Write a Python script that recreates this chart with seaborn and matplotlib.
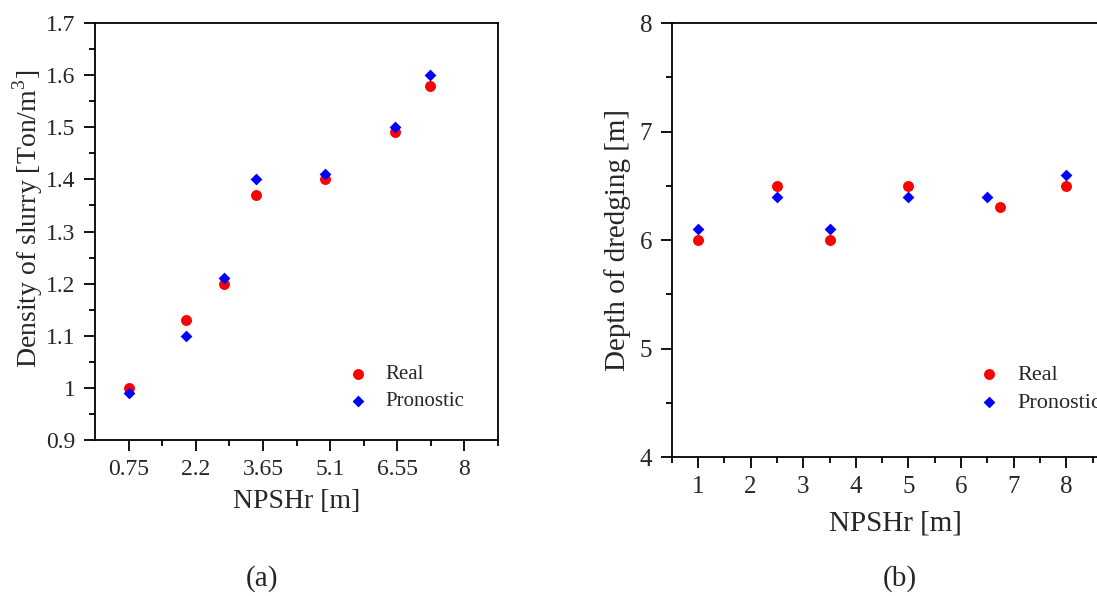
import pandas as pd
import matplotlib.pyplot as plt
import seaborn as sns

# ==============================================================
# basic style
# ==============================================================
sns.set_style('ticks')
plt.rcParams['font.family'] = ['Liberation Serif', 'DejaVu Serif']
plt.rcParams['mathtext.fontset'] = 'custom'
plt.rcParams['mathtext.rm'] = 'Liberation Serif'
plt.rcParams['axes.linewidth'] = 1.3

# ==============================================================
# data
# ==============================================================
# (a) density of slurry
a_x_real = [0.75, 2.0, 2.8, 3.5, 5.0, 6.5, 7.25]
a_y_real = [1.00, 1.13, 1.20, 1.37, 1.40, 1.49, 1.58]
a_x_pron = [0.75, 2.0, 2.8, 3.5, 5.0, 6.5, 7.25]
a_y_pron = [0.99, 1.10, 1.21, 1.40, 1.41, 1.50, 1.60]
a_xticks = [0.75, 2.2, 3.65, 5.1, 6.55, 8]
a_xticklabels = ['0.75', '2.2', '3.65', '5.1', '6.55', '8']
a_yticks = [0.9, 1.0, 1.1, 1.2, 1.3, 1.4, 1.5, 1.6, 1.7]
a_yticklabels = ['0.9', '1', '1.1', '1.2', '1.3', '1.4', '1.5', '1.6', '1.7']

# (b) depth of dredging
b_x_real = [1, 2.5, 3.5, 5, 6.75, 8]
b_y_real = [6.0, 6.5, 6.0, 6.5, 6.3, 6.5]
b_x_pron = [1, 2.5, 3.5, 5, 6.5, 8]
b_y_pron = [6.1, 6.4, 6.1, 6.4, 6.4, 6.6]
b_xticks = [1, 2, 3, 4, 5, 6, 7, 8]
b_yticks = [4, 5, 6, 7, 8]

fig = plt.figure(figsize=(10.97, 5.96), dpi=100)
ax_a = fig.add_axes([0.0866, 0.2617, 0.3674, 0.6997])
ax_b = fig.add_axes([0.6123, 0.2332, 0.4076, 0.7282])


def draw(ax, xr, yr, xp, yp, xlim, ylim, xticks, xticklabels, yticks,
         yticklabels, xminor, yminor, ylabel, legend_anchor,
         tick_fs, label_fs, leg_fs, xlabelpad):
    sns.scatterplot(x=xr, y=yr, color='#ff0000', marker='o', s=62,
                    linewidth=0, label='Real', ax=ax)
    sns.scatterplot(x=xp, y=yp, color='#0000ff', marker='D', s=36,
                    linewidth=0, label='Pronostic', ax=ax)
    ax.set_xlim(*xlim)
    ax.set_ylim(*ylim)
    ax.set_xticks(xticks)
    ax.set_xticklabels(xticklabels, fontsize=tick_fs)
    ax.set_xticks(xminor, minor=True)
    ax.set_yticks(yticks)
    ax.set_yticklabels(yticklabels, fontsize=tick_fs)
    ax.set_yticks(yminor, minor=True)
    ax.tick_params(which='major', direction='out', length=8, width=1.3,
                   color='black', pad=6)
    ax.tick_params(which='minor', direction='out', length=4, width=1.3,
                   color='black')
    ax.set_xlabel('NPSHr [m]', fontsize=label_fs, labelpad=xlabelpad)
    ax.set_ylabel(ylabel, fontsize=label_fs, labelpad=6)
    for sp in ax.spines.values():
        sp.set_color('black')
    handles, labels = ax.get_legend_handles_labels()
    ax.legend(handles, labels, frameon=False, fontsize=leg_fs,
              loc='upper left', bbox_to_anchor=legend_anchor,
              bbox_transform=fig.transFigure, handletextpad=0.3,
              labelspacing=0.35, markerscale=1.0, borderaxespad=0)


# minor ticks halfway between the majors
a_xminor = [v + 0.725 for v in a_xticks]
a_yminor = [v + 0.05 for v in a_yticks[:-1]]
b_xminor = [v + 0.5 for v in [0] + b_xticks]
b_yminor = [v + 0.5 for v in b_yticks[:-1]]

draw(ax_a, a_x_real, a_y_real, a_x_pron, a_y_pron, (0.025, 8.725),
     (0.9, 1.7), a_xticks, a_xticklabels, a_yticks, a_yticklabels,
     a_xminor, a_yminor, 'Density of slurry [Ton/m$^3$]', (0.300, 0.402),
     17, 20, 15, 6)
ax_a.yaxis.set_label_coords(-0.125, 0.53)

draw(ax_b, b_x_real, b_y_real, b_x_pron, b_y_pron, (0.5, 9.0), (4, 8),
     b_xticks, [str(v) for v in b_xticks], b_yticks,
     [str(v) for v in b_yticks], b_xminor, b_yminor,
     'Depth of dredging [m]', (0.873, 0.404), 18, 21, 16, 9)

fig.text(0.239, 0.030, '(a)', fontsize=21, ha='center', va='center')
fig.text(0.82, 0.030, '(b)', fontsize=21, ha='center', va='center')

fig.savefig('out.png', dpi=100)
